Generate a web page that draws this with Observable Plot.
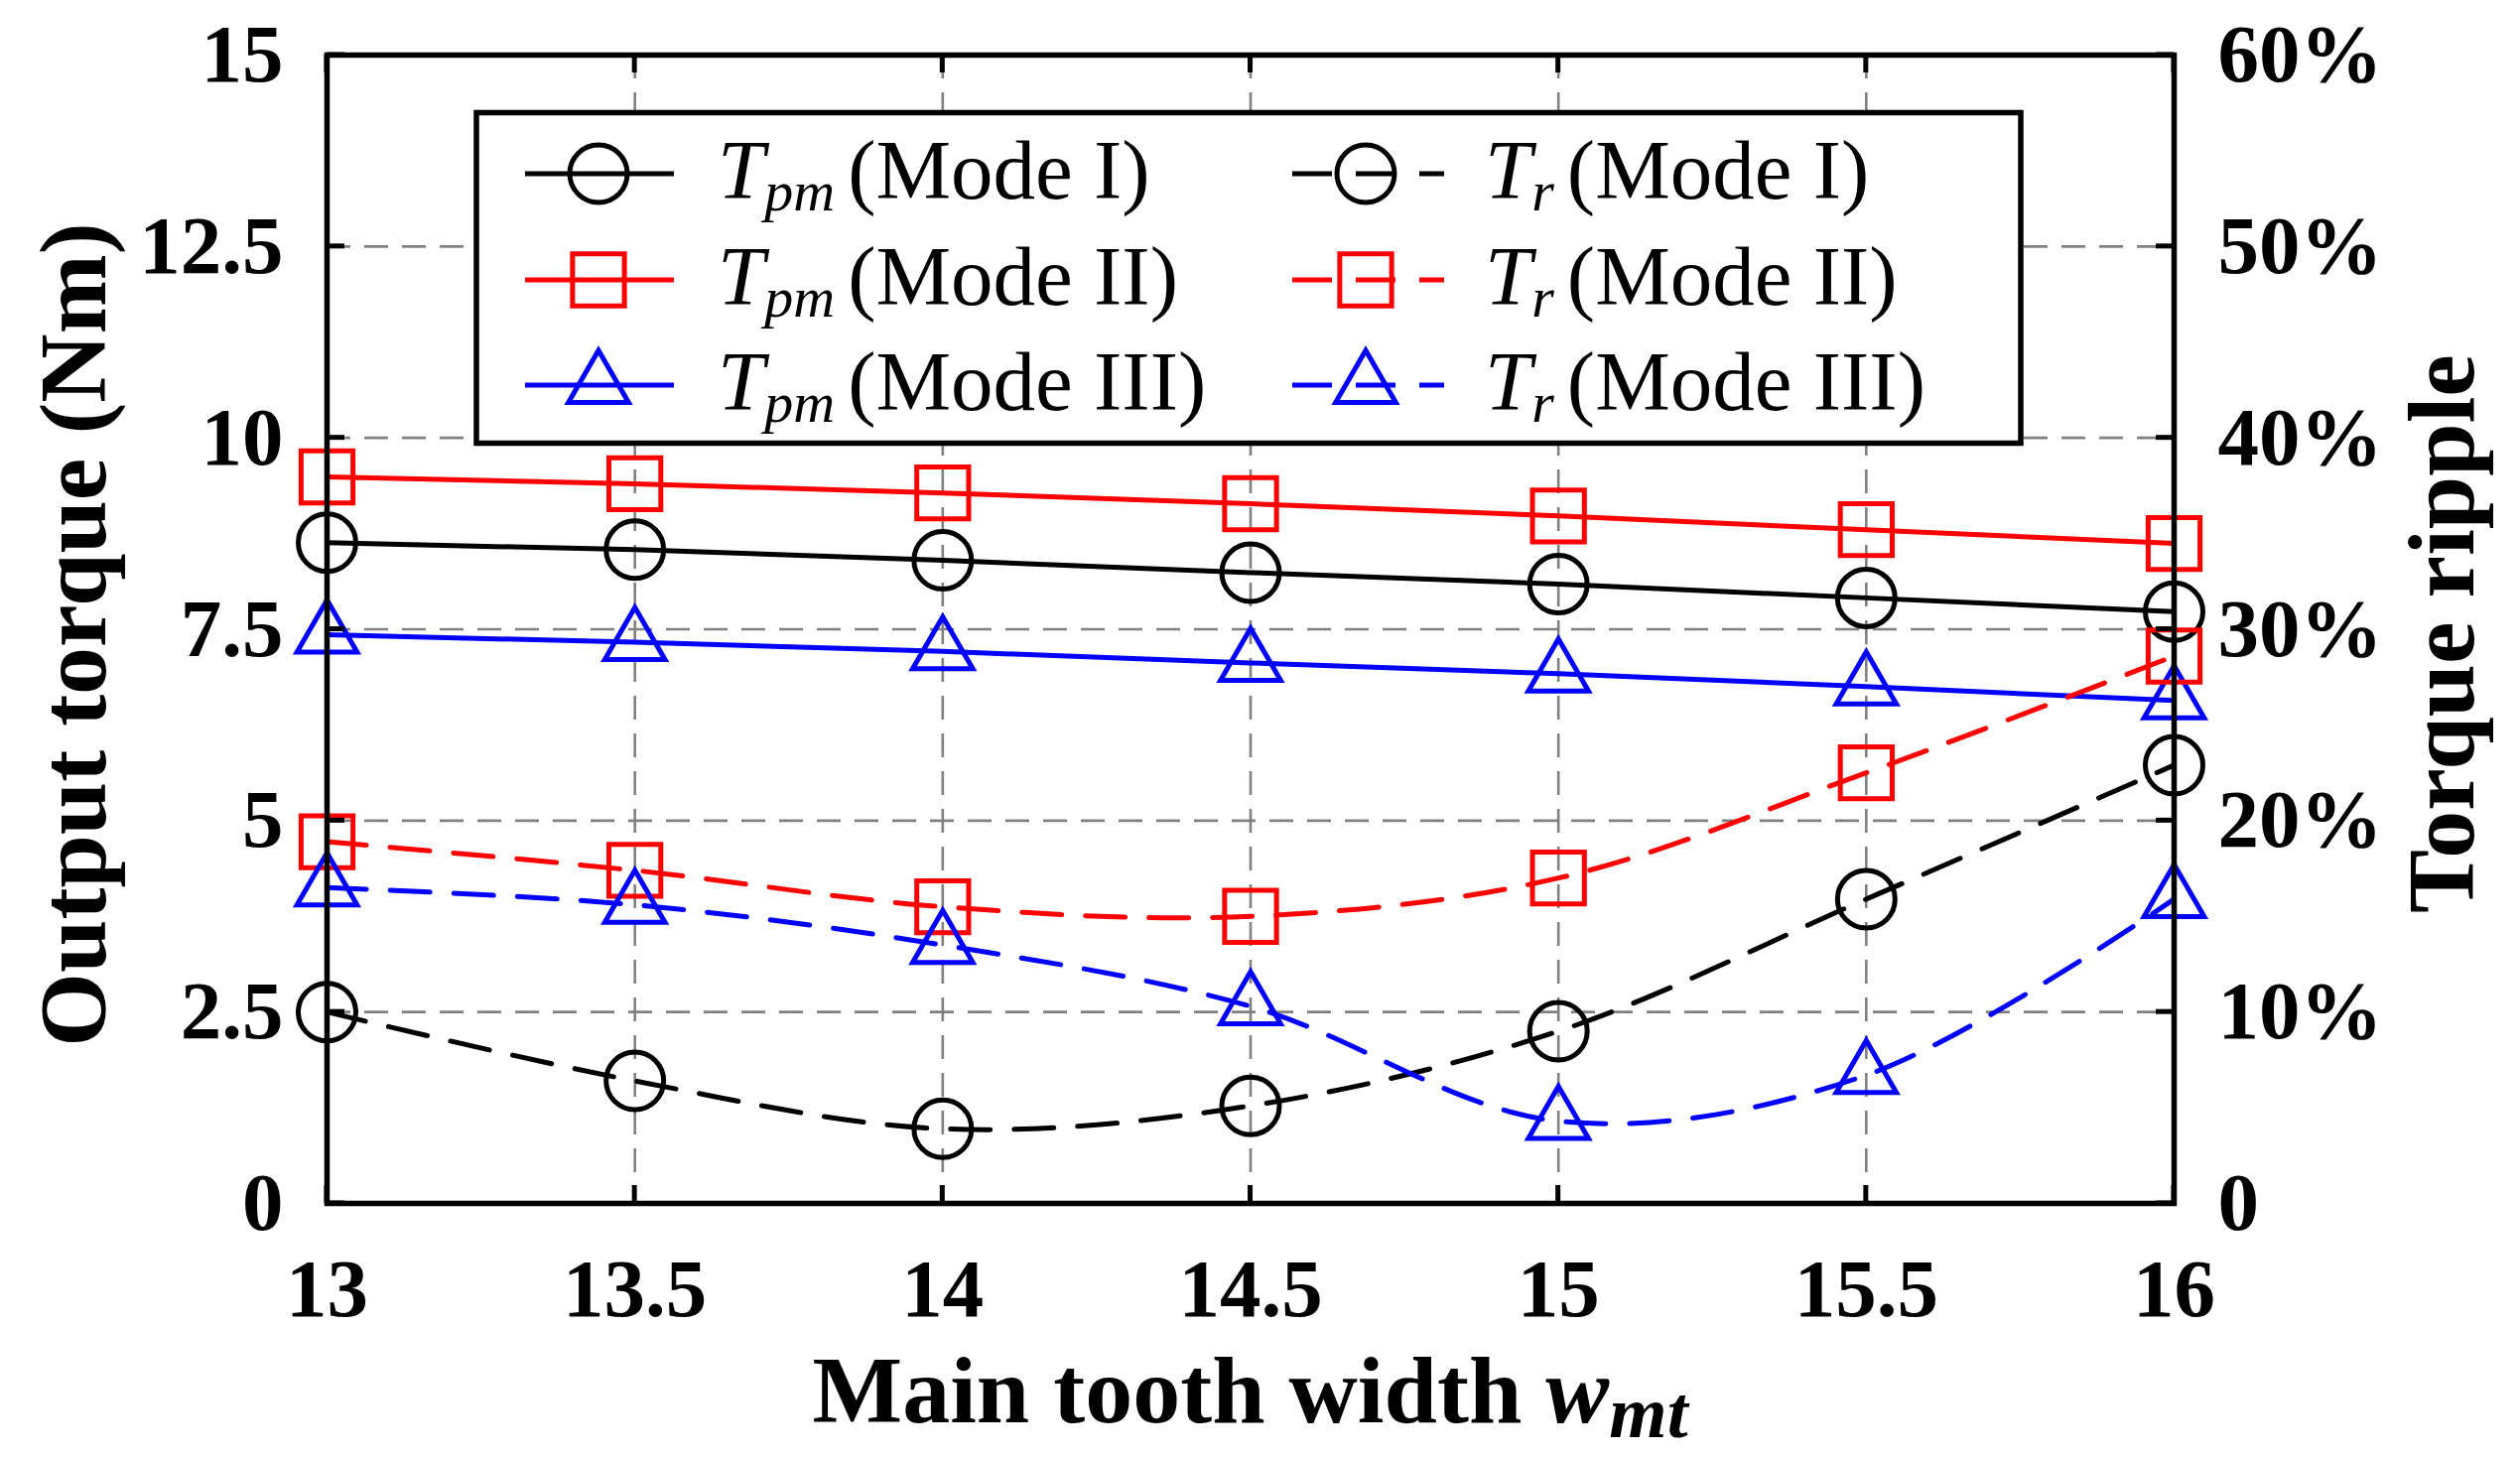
<!DOCTYPE html>
<html>
<head>
<meta charset="utf-8">
<script src="https://cdn.jsdelivr.net/npm/d3@7"></script>
<script src="https://cdn.jsdelivr.net/npm/@observablehq/plot@0.6"></script>
<style>
html, body { margin: 0; padding: 0; background: #fff; }
#chart svg { display: block; }
</style>
</head>
<body>
<div id="chart"></div>
<script>
// ---- data ----
const widths = [13, 13.5, 14, 14.5, 15, 15.5, 16];          // main tooth width w_mt
const tpmModeI   = [8.63, 8.54, 8.40, 8.24, 8.09, 7.91, 7.73]; // output torque (Nm)
const tpmModeII  = [9.49, 9.40, 9.28, 9.14, 8.98, 8.80, 8.62];
const tpmModeIII = [7.43, 7.33, 7.21, 7.06, 6.92, 6.75, 6.57];
const trModeI    = [10.0, 6.4, 3.9, 5.1, 9.0, 15.9, 22.9];    // torque ripple (%)
const trModeII   = [18.9, 17.4, 15.5, 15.0, 17.0, 22.5, 28.6];
const trModeIII  = [16.5, 15.6, 13.5, 10.3, 4.3, 6.7, 15.9];
const xTicks = [13, 13.5, 14, 14.5, 15, 15.5, 16];
const yTicks = [0, 2.5, 5, 7.5, 10, 12.5, 15];
const rippleTicks = [0, 10, 20, 30, 40, 50, 60];
const modeNames = ["Mode I", "Mode II", "Mode III"];
const colors = ["#000000", "#ff0000", "#0000ff"];
const symbols = ["circle", "square", "triangle"];

// ---- style ----
const symbolR = {circle: 29, square: 29.5, triangle: 22.5};
const lineW = 5;
const dash = "40,24";
const rippleToTorque = p => p * 15 / 60; // right axis 0–60 % onto left axis 0–15

const tpmSeries = [tpmModeI, tpmModeII, tpmModeIII];
const trSeries = [trModeI, trModeII, trModeIII];

const marks = [
  Plot.gridX(xTicks, {stroke: "#808080", strokeOpacity: 1, strokeWidth: 2.6, strokeDasharray: "24,14"}),
  Plot.gridY(yTicks, {stroke: "#808080", strokeOpacity: 1, strokeWidth: 2.6, strokeDasharray: "24,14"})
];

tpmSeries.forEach((vals, i) => {
  const rows = widths.map((w, j) => ({w, v: vals[j]}));
  marks.push(Plot.line(rows, {x: "w", y: "v", stroke: colors[i], strokeWidth: lineW}));
  marks.push(Plot.dot(rows, {x: "w", y: "v", symbol: symbols[i], r: symbolR[symbols[i]], stroke: colors[i], fill: "none", strokeWidth: lineW}));
});
trSeries.forEach((vals, i) => {
  const rows = widths.map((w, j) => ({w, p: vals[j]}));
  marks.push(Plot.line(rows, {x: "w", y: d => rippleToTorque(d.p), stroke: colors[i], strokeWidth: lineW, strokeDasharray: dash, curve: "catmull-rom"}));
  marks.push(Plot.dot(rows, {x: "w", y: d => rippleToTorque(d.p), symbol: symbols[i], r: symbolR[symbols[i]], stroke: colors[i], fill: "none", strokeWidth: lineW}));
});

marks.push(Plot.frame({stroke: "#000", strokeWidth: 5.5}));
marks.push(Plot.axisX({ticks: xTicks, tickSize: 0, tickPadding: 55, fontSize: 83, fontWeight: "bold", label: null, tickFormat: d => String(d)}));
marks.push(Plot.axisY({anchor: "left", ticks: yTicks, tickSize: 0, tickPadding: 44, fontSize: 83, fontWeight: "bold", label: null, tickFormat: d => String(d)}));
marks.push(Plot.axisY({anchor: "right", ticks: rippleTicks.map(rippleToTorque), tickSize: 0, tickPadding: 44, fontSize: 83, fontWeight: "bold", label: null,
  tickFormat: d => { const p = Math.round(d * 60 / 15); return p === 0 ? "0" : p + "%"; }}));

const chart = Plot.plot({
  width: 2539,
  height: 1470,
  marginLeft: 329,
  marginRight: 349,
  marginTop: 55,
  marginBottom: 258,
  x: {domain: [13, 16]},
  y: {domain: [0, 15]},
  style: {fontFamily: "'Liberation Serif', 'Times New Roman', serif", background: "#fff", color: "#000"},
  marks
});
document.getElementById("chart").appendChild(chart);

// ---- decorations through Plot's scales ----
const sx = chart.scale("x"), sy = chart.scale("y");
const X = v => sx.apply(v), Y = v => sy.apply(v);
const svg = d3.select(chart);
const x0 = X(13), x1 = X(16), y0 = Y(0), y1 = Y(15);
const tickLen = 18;

const tg = svg.append("g").attr("stroke", "#000").attr("stroke-width", 5);
yTicks.forEach(t => {
  tg.append("line").attr("x1", x0).attr("x2", x0 + tickLen).attr("y1", Y(t)).attr("y2", Y(t));
  tg.append("line").attr("x1", x1).attr("x2", x1 - tickLen).attr("y1", Y(t)).attr("y2", Y(t));
});
xTicks.forEach(t => {
  tg.append("line").attr("x1", X(t)).attr("x2", X(t)).attr("y1", y0).attr("y2", y0 - tickLen);
  tg.append("line").attr("x1", X(t)).attr("x2", X(t)).attr("y1", y1).attr("y2", y1 + tickLen);
});

// axis titles
const font = "'Liberation Serif', 'Times New Roman', serif";
const xt = svg.append("text").attr("x", (x0 + x1) / 2).attr("y", 1433)
  .attr("text-anchor", "middle").attr("font-family", font).attr("font-size", 96).attr("font-weight", "bold").attr("fill", "#000");
xt.append("tspan").text("Main tooth width ");
xt.append("tspan").attr("font-style", "italic").text("w");
xt.append("tspan").attr("font-style", "italic").attr("font-size", 75).attr("dy", 15).text("mt");

svg.append("text").attr("transform", `translate(106,${(y0 + y1) / 2 + 6}) rotate(-90)`)
  .attr("text-anchor", "middle").attr("font-family", font).attr("font-size", 96).attr("font-weight", "bold").attr("fill", "#000")
  .text("Output torque (Nm)");
svg.append("text").attr("transform", `translate(2492,${(y0 + y1) / 2 + 5}) rotate(-90)`)
  .attr("text-anchor", "middle").attr("font-family", font).attr("font-size", 96).attr("font-weight", "bold").attr("fill", "#000")
  .text("Torque ripple");

// legend
const leg = svg.append("g").style("font-weight", "normal").attr("text-anchor", "start");
leg.append("rect").attr("x", 480).attr("y", 113.5).attr("width", 1556).attr("height", 333)
  .attr("fill", "#fff").attr("stroke", "#000").attr("stroke-width", 5.5);
const symType = {circle: d3.symbolCircle, square: d3.symbolSquare, triangle: d3.symbolTriangle};
const rowY = [175, 282, 388];
const cols = [
  {lx1: 529, lx2: 679, mx: 603, tx: 723, sub: "pm", dashed: false, parDx: 13},
  {lx1: 1302, lx2: 1455, mx: 1376, tx: 1496, sub: "r", dashed: true, parDx: 13}
];
cols.forEach(c => {
  modeNames.forEach((m, i) => {
    const cy = rowY[i];
    const ln = leg.append("line").attr("x1", c.lx1).attr("x2", c.lx2).attr("y1", cy).attr("y2", cy)
      .attr("stroke", colors[i]).attr("stroke-width", lineW);
    if (c.dashed) ln.attr("stroke-dasharray", dash);
    const r = symbolR[symbols[i]];
    leg.append("path").attr("d", d3.symbol(symType[symbols[i]], Math.PI * r * r)())
      .attr("transform", `translate(${c.mx},${cy})`).attr("fill", "none").attr("stroke", colors[i]).attr("stroke-width", lineW);
    const t = leg.append("text").attr("x", c.tx).attr("y", cy + 25).attr("font-family", font)
      .attr("text-anchor", "start")
      .attr("font-size", 85).attr("font-weight", "normal").attr("fill", "#000");
    t.append("tspan").attr("font-style", "italic").text("T");
    t.append("tspan").attr("font-style", "italic").attr("font-size", 58).attr("dy", 12).text(c.sub);
    t.append("tspan").attr("dx", c.parDx).attr("dy", -12).text(`(${m})`);
  });
});
</script>
</body>
</html>
